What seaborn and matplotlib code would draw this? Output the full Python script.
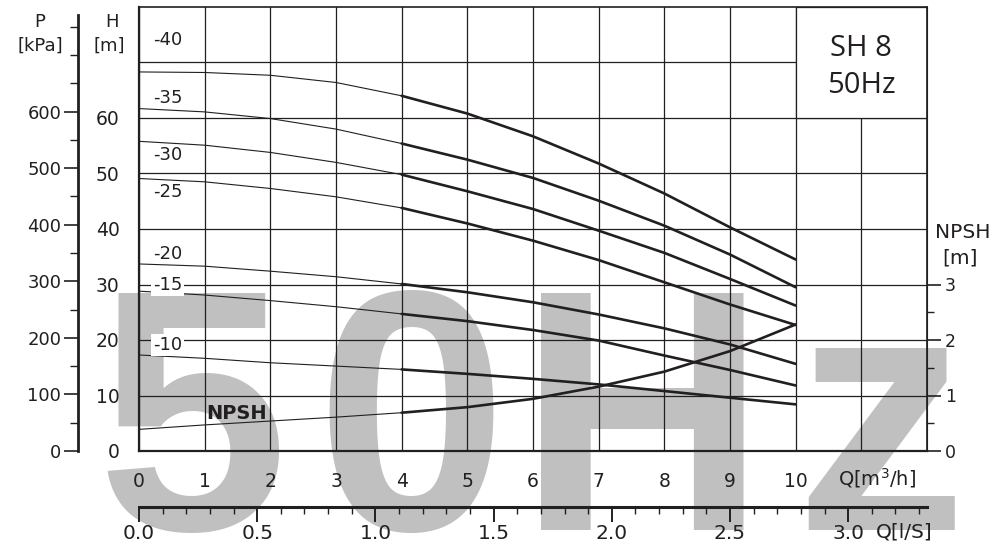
import numpy as np
import pandas as pd
import seaborn as sns
import matplotlib.pyplot as plt
from matplotlib.patches import Rectangle
from matplotlib.ticker import FixedLocator

# flow rate [m3/h]
q = [0, 1, 2, 3, 4, 5, 6, 7, 8, 9, 10]

# head [m] for each impeller trim
h40 = [68.3, 68.2, 67.7, 66.4, 64.0, 60.8, 56.7, 51.8, 46.4, 40.3, 34.5]
h35 = [61.7, 61.1, 59.9, 58.0, 55.4, 52.5, 49.2, 45.1, 40.6, 35.4, 29.5]
h30 = [55.8, 55.1, 53.8, 52.0, 49.8, 46.8, 43.6, 39.7, 35.7, 31.0, 26.2]
h25 = [49.1, 48.5, 47.3, 45.8, 43.8, 41.0, 37.9, 34.4, 30.4, 26.4, 22.7]
h20 = [33.7, 33.3, 32.4, 31.4, 30.1, 28.6, 26.8, 24.6, 22.1, 19.2, 15.7]
h15 = [28.8, 28.1, 27.1, 26.0, 24.7, 23.4, 21.8, 19.9, 17.2, 14.6, 11.8]
h10 = [17.3, 16.7, 15.9, 15.3, 14.7, 13.9, 13.0, 12.0, 10.8, 9.6, 8.4]

# NPSH [m]
npsh = [0.39, 0.47, 0.54, 0.61, 0.69, 0.79, 0.94, 1.16, 1.43, 1.80, 2.28]

curve_names = ["-40", "-35", "-30", "-25", "-20", "-15", "-10"]
curves = [h40, h35, h30, h25, h20, h15, h10]

h_ticks = [0, 10, 20, 30, 40, 50, 60, 70]
p_ticks = [0, 100, 200, 300, 400, 500, 600]
npsh_ticks = [0, 1, 2, 3]
ls_ticks = [0.0, 0.5, 1.0, 1.5, 2.0, 2.5, 3.0]

KPA_PER_M = 9.81
NPSH_SCALE = 10.0
M3H_PER_LS = 3.6

sns.set_style("white")
plt.rcParams['font.family'] = ['DejaVu Sans']
dark = '#231f20'

fig = plt.figure(figsize=(10, 5.46), dpi=100)
fig.patch.set_facecolor('white')
W, H = 1000, 546
ax = fig.add_axes([139 / W, 1 - 451 / H, 788 / W, 444 / H])

# big watermark behind everything
for ch, cx in zip("50Hz", [192, 411, 642, 880]):
    ax.text(cx / W, 1 - 530 / H, ch, transform=fig.transFigure, ha='center',
            va='baseline', fontsize=248, fontweight='bold',
            family='Liberation Sans', color='#c0c0c0', zorder=0.1, clip_on=False)

thin, thick = 0.8, 1.9
rows = []
for name, vals in zip(curve_names, curves):
    rows += [(x, y, name) for x, y in zip(q, vals)]
rows += [(x, n * NPSH_SCALE, "NPSH") for x, n in zip(q, npsh)]
df = pd.DataFrame(rows, columns=["q", "H", "curve"])

for name in curve_names + ["NPSH"]:
    d = df[df.curve == name]
    sns.lineplot(data=d[d.q <= 4], x="q", y="H", color=dark, lw=thin, ax=ax, zorder=3)
    sns.lineplot(data=d[d.q >= 4], x="q", y="H", color=dark, lw=thick, ax=ax, zorder=3)

ax.set_xlim(0, 12)
ax.set_ylim(0, 80)
ax.set_xlabel("")
ax.set_ylabel("")

# grid and frame
ax.set_axisbelow(True)
ax.set_xticks(range(13))
ax.set_xticklabels([str(i) if i <= 10 else "" for i in range(13)], fontsize=13.5, color=dark)
ax.xaxis.set_minor_locator(FixedLocator(np.arange(0.5, 12, 1.0)))
ax.set_yticks(h_ticks)
ax.set_yticklabels([str(v) if v <= 60 else "" for v in h_ticks], fontsize=13.5, color=dark)
ax.yaxis.set_minor_locator(FixedLocator(np.arange(5, 80, 10)))
ax.grid(True, which='major', color=dark, lw=0.9)
ax.tick_params(axis='x', which='major', direction='out', length=12, width=1.2, pad=3, colors=dark)
ax.tick_params(axis='x', which='minor', direction='out', length=6, width=1.0, colors=dark)
ax.tick_params(axis='y', which='major', direction='out', length=10, width=1.2, pad=4, colors=dark)
ax.tick_params(axis='y', which='minor', direction='out', length=5, width=1.0, colors=dark)
for s in ax.spines.values():
    s.set_color(dark)
    s.set_linewidth(1.2)
ax.spines['left'].set_linewidth(1.6)
ax.spines['bottom'].set_linewidth(1.6)

# model box
ax.add_patch(Rectangle((10, 60), 2, 20, facecolor='white', edgecolor=dark, lw=0.9, zorder=0.6))
ax.text(11, 72.6, "SH 8", ha='center', va='center', fontsize=21, family='Open Sans', color=dark, zorder=4)
ax.text(11, 65.9, "50Hz", ha='center', va='center', fontsize=21, family='Open Sans', color=dark, zorder=4)

# curve labels
lab_pos = {"-40": 73.15, "-35": 62.7, "-30": 52.4, "-25": 45.8, "-20": 34.6, "-15": 29.0, "-10": 18.2}
for name in curve_names:
    ax.text(0.21, lab_pos[name], name, fontsize=13, color=dark, va='baseline', zorder=4,
            bbox=dict(facecolor='white', edgecolor='none', pad=1.5) if name in ("-15", "-10") else None)
ax.text(1.03, 5.7, "NPSH", fontsize=14, fontweight='bold', color=dark, va='baseline', zorder=4)

# pressure axis
sec_p = ax.secondary_yaxis(-(139 - 78) / 788,
                           functions=(lambda h: h * KPA_PER_M, lambda p: p / KPA_PER_M))
sec_p.set_zorder(5)
sec_p.set_yticks(p_ticks)
sec_p.set_yticklabels([str(v) for v in p_ticks], fontsize=13, color=dark)
sec_p.yaxis.set_minor_locator(FixedLocator(np.arange(50, 800, 50)))
sec_p.tick_params(which='major', length=10, width=1.2, pad=2, colors=dark)
sec_p.tick_params(which='minor', length=6, width=1.0, colors=dark)
sec_p.spines['left'].set_bounds(0, 770)
sec_p.spines['left'].set_linewidth(2.0)
sec_p.spines['left'].set_color(dark)

# NPSH axis
sec_n = ax.secondary_yaxis('right', functions=(lambda h: h / NPSH_SCALE, lambda n: n * NPSH_SCALE))
sec_n.set_zorder(5)
sec_n.set_yticks(npsh_ticks)
sec_n.set_yticklabels([str(v) for v in npsh_ticks], fontsize=12.5, color=dark)
sec_n.yaxis.set_minor_locator(FixedLocator([0.5, 1.5, 2.5]))
sec_n.tick_params(which='major', length=10, width=1.2, pad=3, colors=dark)
sec_n.tick_params(which='minor', length=5, width=1.0, colors=dark)
sec_n.spines['right'].set_color(dark)

# l/s axis
sec_q = ax.secondary_xaxis(-(507 - 451) / 444,
                           functions=(lambda x: x / M3H_PER_LS, lambda l: l * M3H_PER_LS))
sec_q.set_zorder(5)
sec_q.set_xticks(ls_ticks)
sec_q.set_xticklabels([f"{v:.1f}" for v in ls_ticks], fontsize=14.5, color=dark)
sec_q.xaxis.set_minor_locator(FixedLocator(np.arange(0.1, 3.35, 0.1)))
sec_q.tick_params(which='major', length=11, width=1.4, pad=1, colors=dark)
sec_q.tick_params(which='minor', length=5, width=1.0, colors=dark)
sec_q.spines['bottom'].set_linewidth(2.2)
sec_q.spines['bottom'].set_color(dark)

# axis titles
fig.text(40 / W, 1 - 27 / H, "P", ha='center', va='baseline', fontsize=13, color=dark)
fig.text(40 / W, 1 - 51 / H, "[kPa]", ha='center', va='baseline', fontsize=13, color=dark)
fig.text(112 / W, 1 - 27 / H, "H", ha='center', va='baseline', fontsize=13, color=dark)
fig.text(109 / W, 1 - 51 / H, "[m]", ha='center', va='baseline', fontsize=13, color=dark)
fig.text(963 / W, 1 - 238 / H, "NPSH", ha='center', va='baseline', fontsize=14.5, color=dark)
fig.text(960 / W, 1 - 263 / H, "[m]", ha='center', va='baseline', fontsize=14.5, color=dark)
fig.text(877 / W, 1 - 485 / H, "Q[m$^3$/h]", ha='center', va='baseline', fontsize=14, color=dark)
fig.text(904 / W, 1 - 537 / H, "Q[l/S]", ha='center', va='baseline', fontsize=14.5, color=dark)

fig.savefig("out.png", dpi=100)
